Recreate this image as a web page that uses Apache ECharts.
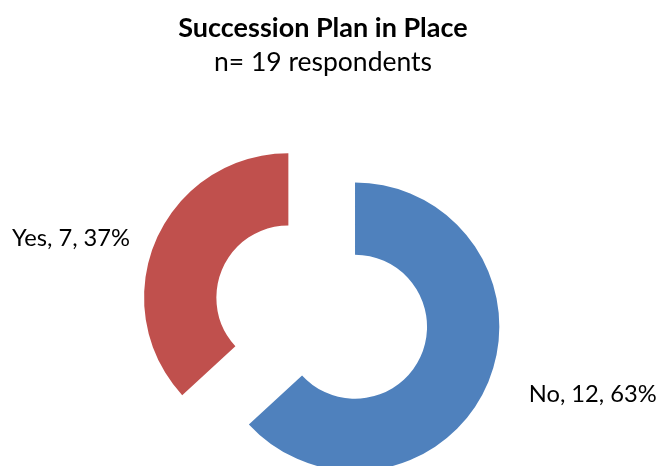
<!DOCTYPE html>
<html>
<head>
<meta charset="utf-8">
<script src="https://cdn.jsdelivr.net/npm/echarts@6/dist/echarts.min.js"></script>
<style>
  html, body { margin: 0; padding: 0; background: #fff; }
  #chart { width: 660px; height: 466px; }
</style>
</head>
<body>
<div id="chart"></div>
<script>
// Survey answers: does the organisation have a succession plan?
const categories = ['No', 'Yes'];
const counts = [12, 7];
const colors = ['#4F81BD', '#C0504D'];

const titleText = 'Succession Plan in Place';
const subtitleText = 'n= 19 respondents';

const FONT = 'Lato, "Open Sans", sans-serif';
const LABEL_SIZE = 23.7;

// Anchor spots for the two data labels (left/right of the ring)
const labelSpots = [
  { x: 656.7, y: 394.8, align: 'right' },
  { x: 12, y: 238.3, align: 'left' }
];

const total = counts.reduce(function (a, b) { return a + b; }, 0);

// "Name, count, percent%" text for each slice
function sliceLabel(i) {
  return categories[i] + ', ' + counts[i] + ', ' + Math.round(counts[i] / total * 100) + '%';
}

const chart = echarts.init(document.getElementById('chart'), null, { renderer: 'canvas' });

chart.setOption({
  animation: false,
  backgroundColor: '#ffffff',
  title: {
    text: titleText,
    subtext: subtitleText,
    left: 318,
    textAlign: 'center',
    top: 9.3,
    itemGap: 7.7,
    textStyle: { fontFamily: FONT, fontWeight: 'bold', fontSize: 27, color: '#000' },
    subtextStyle: { fontFamily: FONT, fontWeight: 'normal', fontSize: 26.5, color: '#000' }
  },
  graphic: categories.map(function (name, i) {
    const s = labelSpots[i];
    return {
      type: 'text',
      x: s.x,
      y: s.y,
      silent: true,
      style: {
        text: sliceLabel(i),
        align: s.align,
        verticalAlign: 'middle',
        fontFamily: FONT,
        fontSize: LABEL_SIZE,
        fill: '#000'
      }
    };
  }),
  series: [{
    type: 'pie',
    center: [321.7, 312.1],
    radius: [72, 144.3],
    startAngle: 90,
    clockwise: true,
    selectedMode: 'multiple',
    selectedOffset: 36.4,
    silent: true,
    emphasis: { disabled: true },
    label: { show: false },
    labelLine: { show: false },
    data: categories.map(function (name, i) {
      return {
        name: name,
        value: counts[i],
        selected: true,
        itemStyle: { color: colors[i] },
        select: { itemStyle: { color: colors[i] } }
      };
    })
  }]
});
</script>
</body>
</html>
